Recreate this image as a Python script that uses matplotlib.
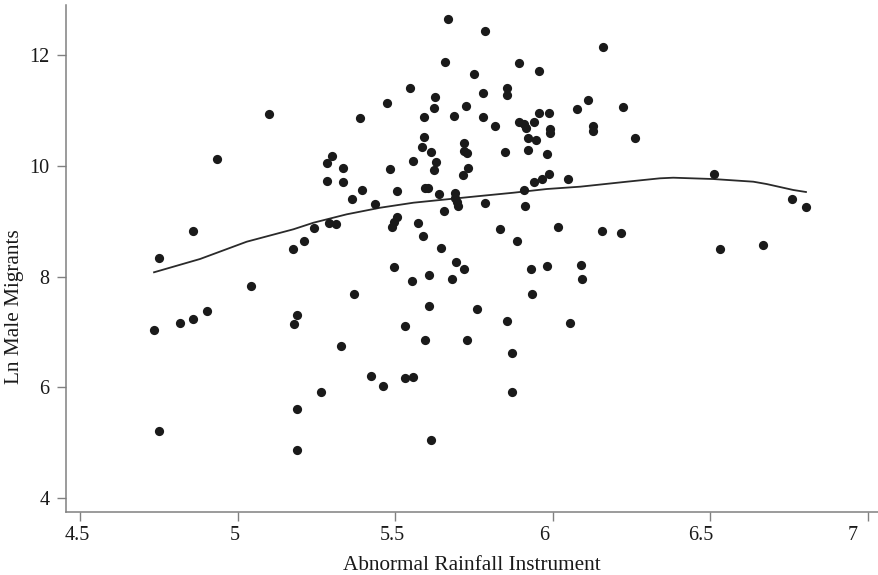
import matplotlib
matplotlib.use("Agg")
import matplotlib.pyplot as plt
from matplotlib.transforms import ScaledTranslation

# scatter values
rain = [5.101, 4.935, 4.860, 4.752, 5.176, 5.042, 5.669, 5.786, 5.657, 5.894,
        5.955, 5.749, 5.548, 5.854, 5.854, 5.627, 5.777, 5.475, 5.623, 5.726,
        5.590, 5.688, 5.777, 5.389, 5.955, 5.987, 6.078, 5.818, 5.892, 5.910,
        5.914, 5.940, 5.992, 5.992, 5.920, 5.947, 5.590, 5.584, 5.718, 5.719,
        5.727, 5.615, 5.848, 5.921, 5.980, 5.299, 5.285, 5.334, 5.483, 5.556,
        5.629, 5.623, 5.732, 5.716, 5.285, 5.335, 5.989, 5.965, 5.940, 6.048,
        5.910, 5.394, 5.364, 5.507, 5.594, 5.603, 5.638, 5.689, 5.689, 5.695,
        5.700, 5.437, 5.784, 5.913, 5.654, 5.505, 5.497, 5.491, 5.243, 5.291,
        5.313, 5.572, 5.588, 5.832, 6.017, 5.212, 5.886, 5.645, 5.496, 5.693,
        5.719, 5.608, 5.552, 5.681, 5.932, 5.981, 6.090, 5.370, 5.935, 6.094,
        6.160, 6.112, 6.222, 6.127, 6.127, 6.260, 6.510, 6.759, 6.802, 6.157,
        6.217, 6.530, 6.666, 4.735, 4.818, 4.859, 4.902, 5.187, 5.178, 4.750,
        5.187, 5.190, 5.608, 5.758, 5.856, 5.532, 6.054, 5.329, 5.593, 5.728,
        5.869, 5.423, 5.462, 5.530, 5.557, 5.264, 5.869, 5.613]
migrants = [10.936, 10.129, 8.829, 8.337, 8.505, 7.831, 12.655, 12.433, 11.874, 11.861,
            11.711, 11.657, 11.414, 11.414, 11.275, 11.248, 11.323, 11.134, 11.040, 11.080,
            10.878, 10.894, 10.881, 10.858, 10.946, 10.957, 11.031, 10.724, 10.784, 10.753,
            10.683, 10.798, 10.672, 10.600, 10.506, 10.461, 10.515, 10.345, 10.417, 10.273,
            10.226, 10.241, 10.246, 10.293, 10.217, 10.183, 10.060, 9.955, 9.937, 10.085,
            10.073, 9.919, 9.966, 9.835, 9.735, 9.701, 9.847, 9.761, 9.717, 9.764,
            9.568, 9.569, 9.407, 9.551, 9.605, 9.605, 9.492, 9.515, 9.414, 9.356,
            9.284, 9.311, 9.324, 9.281, 9.181, 9.071, 8.986, 8.905, 8.887, 8.968,
            8.945, 8.972, 8.734, 8.864, 8.891, 8.649, 8.652, 8.512, 8.180, 8.264,
            8.144, 8.035, 7.925, 7.952, 8.138, 8.198, 8.207, 7.687, 7.683, 7.949,
            12.150, 11.183, 11.067, 10.719, 10.634, 10.508, 9.853, 9.396, 9.257, 8.829,
            8.788, 8.494, 8.566, 7.043, 7.164, 7.236, 7.380, 7.313, 7.140, 5.209,
            5.608, 4.872, 7.465, 7.416, 7.200, 7.104, 7.155, 6.743, 6.862, 6.857,
            6.617, 6.207, 6.027, 6.176, 6.194, 5.913, 5.918, 5.052]

# smoothed fit line
fit_x = [4.735, 4.881, 5.029, 5.177, 5.241, 5.346, 5.452, 5.558, 5.664, 5.769,
         5.875, 5.981, 6.087, 6.235, 6.340, 6.382, 6.509, 6.636, 6.678, 6.763, 6.803]
fit_y = [8.079, 8.319, 8.631, 8.855, 8.974, 9.125, 9.244, 9.335, 9.396, 9.456,
         9.515, 9.582, 9.624, 9.714, 9.775, 9.786, 9.762, 9.714, 9.672, 9.564, 9.528]

x_ticks = [4.5, 5, 5.5, 6, 6.5, 7]
x_labels = ["4.5", "5", "5.5", "6", "6.5", "7"]
y_ticks = [4, 6, 8, 10, 12]

plt.rcParams['font.family'] = ['Liberation Serif', 'DejaVu Serif']

fig = plt.figure(figsize=(8.79, 5.75), dpi=100)
ax = fig.add_axes([0.0747, 0.1101, 0.9253, 0.8812])

ax.scatter(rain, migrants, s=44, color='#1a1a1a', linewidths=0, zorder=3)
ax.plot(fit_x, fit_y, color='#2a2a2a', lw=1.3, zorder=2)

ax.set_xlim(4.4546, 7.0347)
ax.set_ylim(3.758, 12.903)
ax.set_xticks(x_ticks)
ax.set_xticklabels(x_labels)
ax.set_yticks(y_ticks)

for side in ['top', 'right']:
    ax.spines[side].set_visible(False)
for side in ['left', 'bottom']:
    ax.spines[side].set_color('#808080')
    ax.spines[side].set_linewidth(1.1)

ax.tick_params(axis='both', direction='out', length=6.5, width=1.0,
               color='#808080', labelsize=14.5, labelcolor='#1a1a1a')
ax.tick_params(axis='x', pad=4)
ax.tick_params(axis='y', pad=5)

# the original's x labels sit a little left of their ticks
shifts = [-3, -3, -3, -9, -10, -15]
for lab, dx in zip(ax.get_xticklabels(), shifts):
    lab.set_transform(lab.get_transform() + ScaledTranslation(dx / 100, 0, fig.dpi_scale_trans))

ax.set_xlabel('Abnormal Rainfall Instrument', fontsize=15.3, color='#1a1a1a', va='center')
ax.xaxis.set_label_coords(0.499, -0.106)
ax.set_ylabel('Ln Male Migrants', fontsize=15.3, color='#1a1a1a', va='center')
ax.yaxis.set_label_coords(-0.0623, 0.404)

fig.savefig('out.png', dpi=100)
